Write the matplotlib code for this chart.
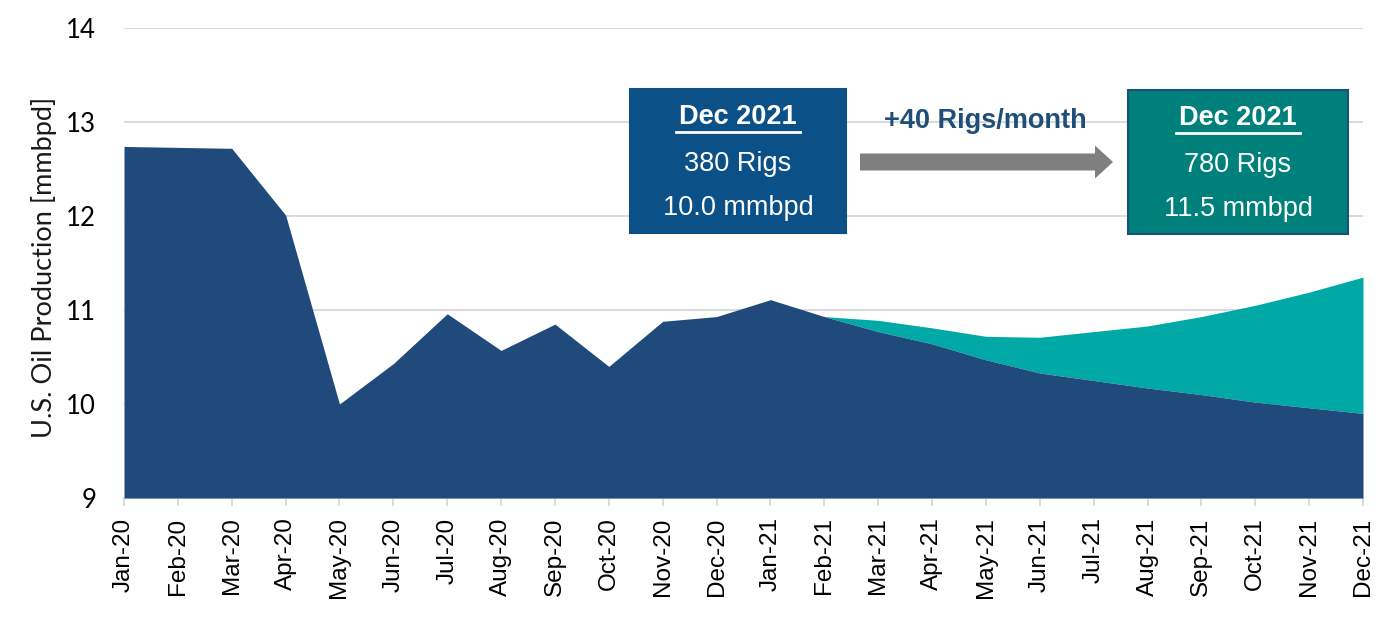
import matplotlib.pyplot as plt
from matplotlib.patches import Rectangle, FancyArrow
from matplotlib.lines import Line2D

months = ['Jan-20', 'Feb-20', 'Mar-20', 'Apr-20', 'May-20', 'Jun-20', 'Jul-20', 'Aug-20',
          'Sep-20', 'Oct-20', 'Nov-20', 'Dec-20', 'Jan-21', 'Feb-21', 'Mar-21', 'Apr-21',
          'May-21', 'Jun-21', 'Jul-21', 'Aug-21', 'Sep-21', 'Oct-21', 'Nov-21', 'Dec-21']

# base case (380 rigs)
base = [12.74, 12.73, 12.72, 12.01, 10.00, 10.43, 10.96, 10.57, 10.85, 10.40, 10.88, 10.93,
        11.11, 10.93, 10.77, 10.64, 10.47, 10.33, 10.25, 10.17, 10.10, 10.02, 9.96, 9.90]

# +40 rigs/month case, from Feb-21
high_start = 13
high = [10.93, 10.89, 10.81, 10.72, 10.71, 10.77, 10.83, 10.93, 11.05, 11.19, 11.35]

W, H = 1386, 622
fig = plt.figure(figsize=(W / 100, H / 100), dpi=100)
ax = fig.add_axes([124 / W, 1 - 498 / H, (1363 - 124) / W, 470 / H])

x = list(range(len(months)))
hx = x[high_start:]
ax.fill_between(hx, base[high_start:], high, color='#00A9A6', lw=0, zorder=2)
ax.fill_between(x, 9, base, color='#214A7C', lw=0, zorder=3)

ax.set_xlim(0, 23)
ax.set_ylim(9, 14)
ax.set_yticks([9, 10, 11, 12, 13, 14])
ax.set_xticks(x)
ax.set_xticklabels(months, rotation=90, fontsize=17.5, family='Liberation Sans')
for lab in ax.get_yticklabels():
    lab.set_family('Lato')
    lab.set_fontsize(18.5)

ax.grid(axis='y', color='#D9D9D9', lw=1.4)
ax.set_axisbelow(True)
for s in ['top', 'right', 'left']:
    ax.spines[s].set_visible(False)
ax.spines['bottom'].set_color('#D9D9D9')
ax.spines['bottom'].set_linewidth(1.4)
ax.tick_params(axis='y', length=0, pad=20)
ax.tick_params(axis='x', length=6, color='#D9D9D9', width=1.3, pad=8)

ax.set_ylabel('U.S. Oil Production [mmbpd]', fontsize=19.5, family='Lato', color='#1a1a1a')
ax.yaxis.set_label_coords(-0.054, 0.49)


def fx(px):
    return px / W


def fy(py):
    return 1 - py / H


# boxes
def box(x0, x1, y0, y1, fc, ec, lines):
    fig.add_artist(Rectangle((fx(x0), fy(y1)), fx(x1) - fx(x0), fy(y0) - fy(y1),
                             transform=fig.transFigure, fc=fc, ec=ec, lw=1.5))
    cx = (x0 + x1) / 2
    fig.text(fx(cx), fy(y0 + 28), lines[0], color='white', fontsize=19.5, weight='bold',
             family='Liberation Sans', ha='center', va='center')
    fig.add_artist(Line2D([fx(cx - 62), fx(cx + 62)], [fy(y0 + 43), fy(y0 + 43)],
                          transform=fig.transFigure, color='white', lw=2))
    fig.text(fx(cx), fy(y0 + 75), lines[1], color='white', fontsize=19.5,
             family='Liberation Sans', ha='center', va='center')
    fig.text(fx(cx), fy(y0 + 119), lines[2], color='white', fontsize=19.5,
             family='Liberation Sans', ha='center', va='center')


box(630, 846, 89, 233, '#0B5188', '#0B5188', ['Dec 2021', '380 Rigs', '10.0 mmbpd'])
box(1128, 1348, 90, 234, '#00807B', '#1D4F7A', ['Dec 2021', '780 Rigs', '11.5 mmbpd'])

# arrow
fig.add_artist(FancyArrow(fx(860), fy(162), fx(1113) - fx(860), 0, width=17 / H,
                          head_width=33 / H, head_length=18 / W, length_includes_head=True,
                          transform=fig.transFigure, fc='#7F7F7F', ec='none'))
fig.text(fx(985), fy(121), '+40 Rigs/month', color='#1F4E79', fontsize=19.5, weight='bold',
         family='Liberation Sans', ha='center', va='center')

fig.savefig('out.png', dpi=100)
